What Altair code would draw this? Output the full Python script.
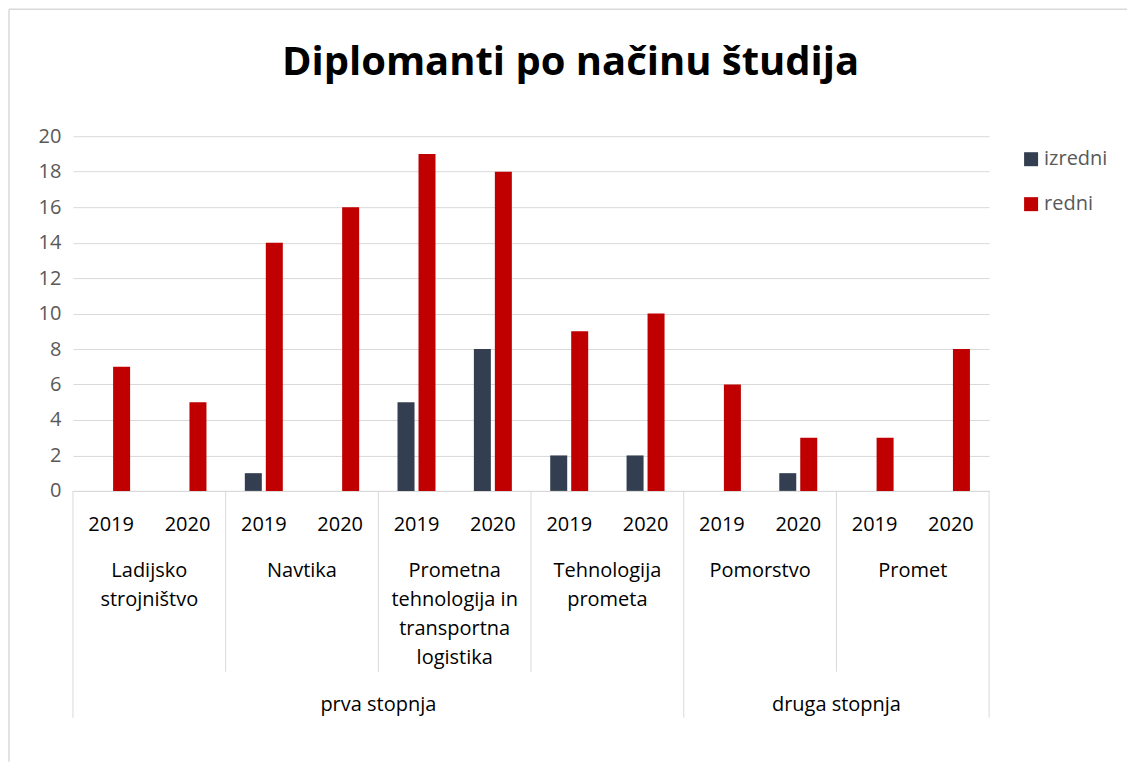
import altair as alt
import pandas as pd

TITLE = "Diplomanti po načinu študija"
programs = ["Ladijsko strojništvo", "Navtika",
            "Prometna tehnologija in transportna logistika",
            "Tehnologija prometa", "Pomorstvo", "Promet"]
program_labels = ["Ladijsko\nstrojništvo", "Navtika",
                  "Prometna\ntehnologija in\ntransportna\nlogistika",
                  "Tehnologija\nprometa", "Pomorstvo", "Promet"]
program_level = ["prva stopnja", "prva stopnja", "prva stopnja",
                 "prva stopnja", "druga stopnja", "druga stopnja"]
levels = ["prva stopnja", "druga stopnja"]
years = ["2019", "2020"]
series = ["izredni", "redni"]
colors = ["#333F50", "#C00000"]
# values per (program, year) in order
izredni = [None, None, 1, None, 5, 8, 2, 2, None, 1, None, None]
redni = [7, 5, 14, 16, 19, 18, 9, 10, 6, 3, 3, 8]

keys = [f"{p}|{y}" for p in programs for y in years]

rows = []
for i, k in enumerate(keys):
    rows.append({"key": k, "series": "izredni", "value": izredni[i]})
    rows.append({"key": k, "series": "redni", "value": redni[i]})
bars_df = pd.DataFrame(rows)

years_df = pd.DataFrame({"key": keys, "year": [k.split("|")[1] for k in keys]})
prog_df = pd.DataFrame({"key": [f"{p}|2019" for p in programs], "label": program_labels})

# level label centres: boundary in the middle of each level's span
level_keys = []
for lv in levels:
    idx = [i for i, p in enumerate(programs) if program_level[i] == lv]
    ks = [f"{programs[i]}|{y}" for i in idx for y in years]
    level_keys.append(ks[len(ks) // 2 - 1])
level_df = pd.DataFrame({"key": level_keys, "label": levels})

inner_sep = [f"{programs[i]}|2019" for i in range(1, len(programs)) if program_level[i] == program_level[i - 1]]
outer_sep = [f"{programs[i]}|2019" for i in range(len(programs)) if i == 0 or program_level[i] != program_level[i - 1]]
inner_df = pd.DataFrame({"key": inner_sep})
outer_df = pd.DataFrame({"key": outer_sep})
end_df = pd.DataFrame({"key": [keys[-1]]})

FONT = "Open Sans"
W, H = 917, 355
GRID = "#d9d9d9"
CAT_SIZE = 20

xscale = alt.Scale(domain=keys, paddingInner=0, paddingOuter=0)

bars = alt.Chart(bars_df).mark_bar().encode(
    x=alt.X("key:N", scale=xscale, sort=keys,
            axis=alt.Axis(labels=False, ticks=False, title=None, domain=True,
                          domainColor=GRID, grid=False)),
    xOffset=alt.XOffset("series:N", sort=series,
                        scale=alt.Scale(domain=series, paddingInner=0.19, paddingOuter=0.914)),
    y=alt.Y("value:Q", scale=alt.Scale(domain=[0, 20]),
            axis=alt.Axis(values=list(range(0, 21, 2)), title=None, domain=False,
                          ticks=False, tickSize=0, labelPadding=12, labelFontSize=20,
                          labelColor="#595959", labelFont=FONT,
                          gridColor=GRID, gridWidth=1)),
    color=alt.Color("series:N", scale=alt.Scale(domain=series, range=colors),
                    legend=alt.Legend(title=None, orient="none", legendX=949, legendY=13,
                                      symbolType="square", symbolSize=196,
                                      symbolStrokeWidth=0, labelFontSize=20,
                                      labelColor="#595959", labelFont=FONT,
                                      rowPadding=25, labelOffset=3, padding=0)),
)

xenc = alt.X("key:N", scale=xscale, sort=keys)

year_text = alt.Chart(years_df).mark_text(
    fontSize=CAT_SIZE, font=FONT, color="#000000", baseline="alphabetic", align="center"
).encode(x=xenc, y=alt.value(395), text="year:N")

prog_text = alt.Chart(prog_df).mark_text(
    fontSize=CAT_SIZE, font=FONT, color="#000000", baseline="alphabetic", align="center",
    lineBreak="\n", lineHeight=29
).encode(x=alt.X("key:N", scale=xscale, sort=keys, bandPosition=1),
         y=alt.value(441), text="label:N")

level_text = alt.Chart(level_df).mark_text(
    fontSize=CAT_SIZE, font=FONT, color="#000000", baseline="alphabetic", align="center"
).encode(x=alt.X("key:N", scale=xscale, sort=keys, bandPosition=1),
         y=alt.value(575), text="label:N")

inner_rules = alt.Chart(inner_df).mark_rule(color=GRID, strokeWidth=1).encode(
    x=alt.X("key:N", scale=xscale, sort=keys, bandPosition=0),
    y=alt.value(H), y2=alt.value(536))
outer_rules = alt.Chart(outer_df).mark_rule(color=GRID, strokeWidth=1).encode(
    x=alt.X("key:N", scale=xscale, sort=keys, bandPosition=0),
    y=alt.value(H), y2=alt.value(582))
end_rule = alt.Chart(end_df).mark_rule(color=GRID, strokeWidth=1).encode(
    x=alt.X("key:N", scale=xscale, sort=keys, bandPosition=1),
    y=alt.value(H), y2=alt.value(582))

title_df = pd.DataFrame({"t": [TITLE]})
title_text = alt.Chart(title_df).mark_text(
    fontSize=40, font=FONT, fontWeight="bold", color="#000000",
    baseline="alphabetic", align="center"
).encode(x=alt.value(498), y=alt.value(-61), text="t:N")

# outer chart border (top and left edges)
frame_top = alt.Chart(title_df).mark_rule(color=GRID, strokeWidth=1.5).encode(
    x=alt.value(-64), x2=alt.value(1055), y=alt.value(-127))
frame_left = alt.Chart(title_df).mark_rule(color=GRID, strokeWidth=1.5).encode(
    x=alt.value(-64), y=alt.value(-127), y2=alt.value(626))

chart = alt.layer(
    frame_top, frame_left, title_text, bars, year_text, prog_text, level_text,
    inner_rules, outer_rules, end_rule
).properties(width=W, height=H, padding=0, background="white").configure_view(
    stroke=None
).configure_axis(labelFont=FONT)

chart.save("out.html", embed_options={"renderer": "svg", "actions": False})
